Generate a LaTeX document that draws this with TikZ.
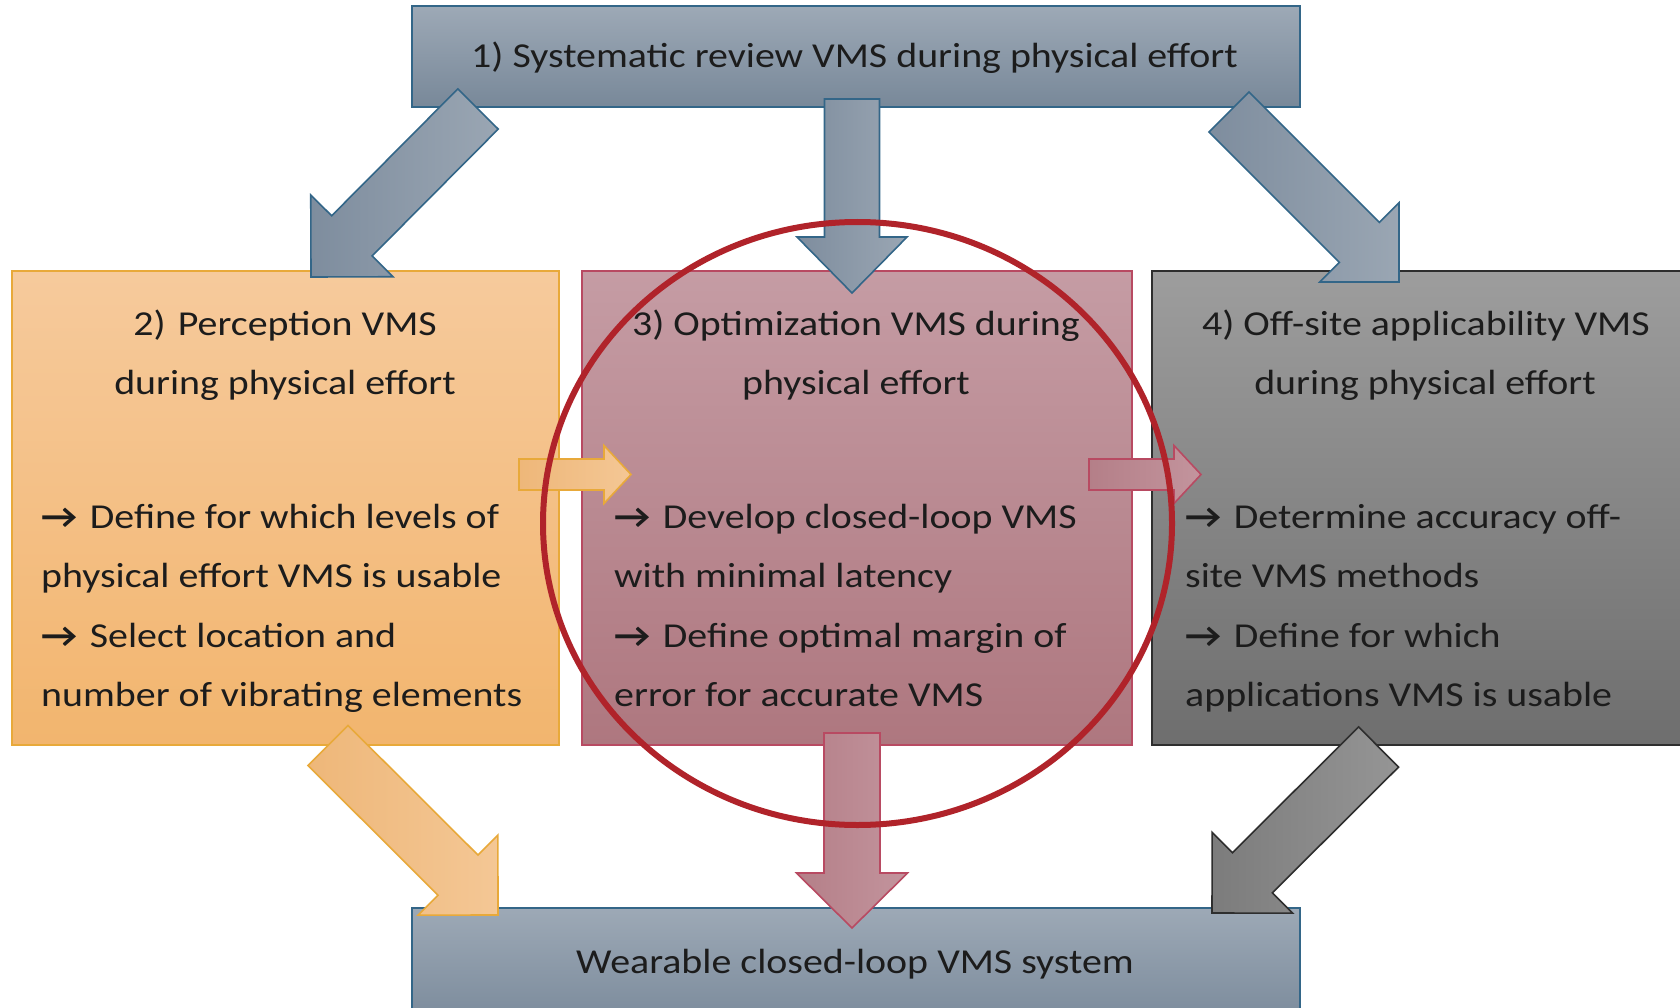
\documentclass[tikz,border=0pt]{standalone}
\usepackage{fontspec}
\setmainfont{Carlito}[FakeStretch=1.14]
\usetikzlibrary{calc}

\definecolor{slateTop}{HTML}{9DA9B6}
\definecolor{slateBot}{HTML}{788899}
\definecolor{slateEdge}{HTML}{336688}
\definecolor{slateArrA}{HTML}{7E8D9E}
\definecolor{slateArrB}{HTML}{9AA6B3}
\definecolor{orTop}{HTML}{F6CA9C}
\definecolor{orBot}{HTML}{F2B56E}
\definecolor{orEdge}{HTML}{E8A93A}
\definecolor{orArrA}{HTML}{EEB779}
\definecolor{orArrB}{HTML}{F4C795}
\definecolor{pkTop}{HTML}{C59CA4}
\definecolor{pkBot}{HTML}{AE777F}
\definecolor{pkEdge}{HTML}{B84A62}
\definecolor{pkArrA}{HTML}{B47F88}
\definecolor{pkArrB}{HTML}{C3949D}
\definecolor{gyTop}{HTML}{9D9D9D}
\definecolor{gyBot}{HTML}{6E6E6E}
\definecolor{gyEdge}{HTML}{2E2E2E}
\definecolor{gyArrA}{HTML}{7C7C7C}
\definecolor{gyArrB}{HTML}{959595}
\definecolor{ringRed}{HTML}{B0232A}
\definecolor{ink}{HTML}{1C1C1C}

% bullet arrow in front of each task line
\newcommand\task{\textbf{→}\hspace{0.36em}}

% block arrow: [style]{tail}{tip}{shaft half-width}{head half-width}{head length}
\newcommand\blockarrow[6][]{%
  \coordinate (ba-h) at ($(#3)!#6!(#2)$);
  \path[#1] ($(#2)!#4!90:(#3)$) -- ($(ba-h)!#4!90:(#3)$) -- ($(ba-h)!#5!90:(#3)$)
    -- (#3) -- ($(ba-h)!#5!-90:(#3)$) -- ($(ba-h)!#4!-90:(#3)$)
    -- ($(#2)!#4!-90:(#3)$) -- cycle;
}

\tikzset{
  panel/.style={rectangle, inner sep=0pt, outer sep=0pt, line width=2pt},
  txt/.style={inner sep=0pt, text=ink, font=\fontsize{35}{42}\selectfont},
  slatearrow/.style={draw=slateEdge, line width=1.6pt, shading=axis,
    left color=slateArrA, right color=slateArrB, line join=miter},
  orarrow/.style={draw=orEdge, line width=1.6pt, shading=axis,
    left color=orArrA, right color=orArrB},
  pkarrow/.style={draw=pkEdge, line width=1.6pt, shading=axis,
    left color=pkArrA, right color=pkArrB},
  gyarrow/.style={draw=gyEdge, line width=1.6pt, shading=axis,
    left color=gyArrA, right color=gyArrB},
  ring/.style={draw=ringRed, line width=6pt}
}

\begin{document}
\begin{tikzpicture}[x=1pt,y=-1pt]
\useasboundingbox (0,0) rectangle (1680,1008);
\clip (0,0) rectangle (1680,1008);
\fill[white] (0,0) rectangle (1680,1008);

% stage panels
\node[panel, draw=slateEdge, top color=slateTop, bottom color=slateBot,
      minimum width=888pt, minimum height=101pt] (review) at (856,56.5) {};
\node[panel, draw=orEdge, top color=orTop, bottom color=orBot,
      minimum width=547pt, minimum height=474pt] (perc) at (285.5,508) {};
\node[panel, draw=pkEdge, top color=pkTop, bottom color=pkBot,
      minimum width=550pt, minimum height=474pt] (optim) at (857,508) {};
\node[panel, draw=gyEdge, top color=gyTop, bottom color=gyBot,
      minimum width=560pt, minimum height=474pt] (offsite) at (1432,508) {};
\node[panel, draw=slateEdge, top color=slateTop, bottom color=slateBot,
      minimum width=888pt, minimum height=124pt] (system) at (856,970) {};

% arrow end points
\coordinate (a1s) at (478,109);   \coordinate (a1e) at (311,277);
\coordinate (a2s) at (852,99);    \coordinate (a2e) at (852,293);
\coordinate (a3s) at (1229,112);  \coordinate (a3e) at (1399,282);
\coordinate (a4s) at (328,745.5); \coordinate (a4e) at (498,915);
\coordinate (a5s) at (852,733);   \coordinate (a5e) at (852,928);
\coordinate (a6s) at (1378.6,747);\coordinate (a6e) at (1212,913);
\coordinate (a7s) at (519,474.5); \coordinate (a7e) at (631,474.5);
\coordinate (a8s) at (1089,474.5);\coordinate (a8e) at (1201,474.5);

\blockarrow[slatearrow]{a1s}{a1e}{28.5pt}{58pt}{58pt}
\blockarrow[slatearrow]{a2s}{a2e}{27.5pt}{55pt}{56pt}
\blockarrow[slatearrow]{a3s}{a3e}{28.3pt}{56pt}{56pt}
\blockarrow[orarrow]{a4s}{a4e}{28.3pt}{56.5pt}{56.5pt}
\blockarrow[pkarrow]{a5s}{a5e}{28pt}{55.5pt}{55pt}
\blockarrow[gyarrow]{a6s}{a6e}{28.3pt}{57pt}{57pt}
\blockarrow[orarrow]{a7s}{a7e}{15.5pt}{29pt}{27pt}
\blockarrow[pkarrow]{a8s}{a8e}{15.5pt}{29pt}{27pt}

% texts
\node[txt, anchor=base] (reviewtxt) at (854.5,68) {1) Systematic review VMS during physical effort};
\node[txt, anchor=base] (systemtxt) at (855,973) {Wearable closed-loop VMS system};

\node[txt, anchor=base] (perc1) at (285,335) {2)\hspace{0.35em}Perception VMS};
\node[txt, anchor=base] (perc2) at (285,394) {during physical effort};
\node[txt, anchor=base west] (perc3) at (41,528) {\task Define for which levels of};
\node[txt, anchor=base west] (perc4) at (41,587.5) {physical effort VMS is usable};
\node[txt, anchor=base west] (perc5) at (41,647) {\task Select location and};
\node[txt, anchor=base west] (perc6) at (41,706.5) {number of vibrating elements};

\node[txt, anchor=base] (optim1) at (856,335) {3) Optimization VMS during};
\node[txt, anchor=base] (optim2) at (856,394) {physical effort};
\node[txt, anchor=base west] (optim3) at (614,528) {\task Develop closed-loop VMS};
\node[txt, anchor=base west] (optim4) at (614,587.5) {with minimal latency};
\node[txt, anchor=base west] (optim5) at (614,647) {\task Define optimal margin of};
\node[txt, anchor=base west] (optim6) at (614,706.5) {error for accurate VMS};

\node[txt, anchor=base] (off1) at (1426,335) {4) Off-site applicability VMS};
\node[txt, anchor=base] (off2) at (1425,394) {during physical effort};
\node[txt, anchor=base west] (off3) at (1185,528) {\task Determine accuracy off-};
\node[txt, anchor=base west] (off4) at (1185,587.5) {site VMS methods};
\node[txt, anchor=base west] (off5) at (1185,647) {\task Define for which};
\node[txt, anchor=base west] (off6) at (1185,706.5) {applications VMS is usable};

% highlight ring round the optimization stage
\draw[ring] (857.5,523.5) ellipse [x radius=314.5pt, y radius=301.5pt];
\end{tikzpicture}
\end{document}
